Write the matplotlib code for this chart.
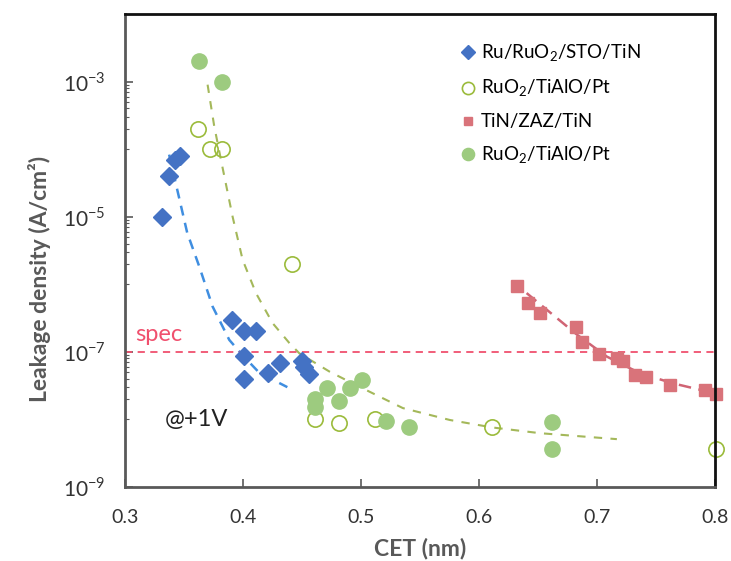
import matplotlib
matplotlib.use("Agg")
import matplotlib.pyplot as plt
from matplotlib.ticker import FixedLocator, NullFormatter

plt.rcParams['font.family'] = ['Lato', 'DejaVu Sans']
plt.rcParams['mathtext.fontset'] = 'custom'
plt.rcParams['mathtext.rm'] = 'Lato'

# Ru/RuO2/STO/TiN (blue diamonds)
sto_x = [0.331, 0.337, 0.342, 0.347, 0.391, 0.4005, 0.411, 0.401, 0.4005, 0.421, 0.431, 0.450, 0.4515, 0.456]
sto_y = [1.0e-5, 4.0e-5, 7.0e-5, 8.0e-5, 3.0e-7, 2.0e-7, 2.0e-7, 8.7e-8, 3.9e-8, 4.8e-8, 6.8e-8, 7.2e-8, 6.0e-8, 4.7e-8]
sto_fit_x = [0.3374, 0.3527, 0.3629, 0.3742, 0.3884, 0.3997, 0.4138, 0.4376]
sto_fit_y = [8.3e-5, 5.8e-6, 1.84e-6, 4.7e-7, 1.5e-7, 8.9e-8, 4.9e-8, 3.0e-8]

# RuO2/TiAlO/Pt open circles
open_x = [0.362, 0.372, 0.382, 0.4416, 0.461, 0.481, 0.5116, 0.611, 0.801]
open_y = [2.0e-4, 1.0e-4, 1.0e-4, 2.0e-6, 1.0e-8, 8.8e-9, 1.0e-8, 7.6e-9, 3.7e-9]

# RuO2/TiAlO/Pt filled circles
fill_x = [0.3623, 0.382, 0.461, 0.461, 0.471, 0.481, 0.491, 0.501, 0.5215, 0.541, 0.6617, 0.6617]
fill_y = [2.0e-3, 1.0e-3, 2.0e-8, 1.5e-8, 2.9e-8, 1.9e-8, 2.9e-8, 3.8e-8, 9.5e-9, 7.7e-9, 9.3e-9, 3.7e-9]
tialo_fit_x = [0.370, 0.3756, 0.3813, 0.3912, 0.3997, 0.411, 0.4251, 0.4393, 0.4478, 0.4733,
               0.4931, 0.5355, 0.5753, 0.6112, 0.6517, 0.7169]
tialo_fit_y = [9.0e-4, 2.2e-4, 7.0e-5, 1.0e-5, 2.3e-6, 7.4e-7, 2.66e-7, 1.35e-7, 9.5e-8, 5.1e-8,
               3.4e-8, 1.47e-8, 9.8e-9, 7.6e-9, 6.25e-9, 5.1e-9]

# TiN/ZAZ/TiN (red squares)
zaz_x = [0.6325, 0.6418, 0.6517, 0.682, 0.6871, 0.702, 0.7169, 0.7217, 0.7319, 0.7418, 0.7616, 0.7913, 0.8013]
zaz_y = [9.5e-7, 5.3e-7, 3.8e-7, 2.3e-7, 1.4e-7, 9.2e-8, 8.1e-8, 7.4e-8, 4.6e-8, 4.2e-8, 3.2e-8, 2.7e-8, 2.4e-8]
zaz_fit_x = [0.6404, 0.683, 0.7084, 0.7367, 0.765, 0.8013]
zaz_fit_y = [7.4e-7, 1.8e-7, 8.5e-8, 4.8e-8, 3.4e-8, 2.4e-8]

spec = 1e-7

fig = plt.figure(figsize=(7.31, 5.61), dpi=100)
ax = fig.add_axes([0.171, 0.132, 0.807, 0.843])

ax.plot(sto_fit_x, sto_fit_y, ls=(0, (4, 3)), color='#3f8ee0', lw=1.8)
ax.plot(tialo_fit_x, tialo_fit_y, ls=(0, (4, 4)), color='#a4b85a', lw=1.5)
ax.plot(zaz_fit_x, zaz_fit_y, ls=(0, (5, 3)), color='#d06474', lw=1.8)
ax.axhline(spec, ls=(0, (4, 3)), color='#f0506e', lw=1.3)

ax.plot(sto_x, sto_y, 'D', color='#4472c4', ms=9, ls='none', label='Ru/RuO$_2$/STO/TiN', clip_on=False)
ax.plot(open_x, open_y, 'o', mfc='none', mec='#9bbb3b', mew=1.2, ms=11, ls='none',
        label='RuO$_2$/TiAlO/Pt', clip_on=False)
ax.plot(zaz_x, zaz_y, 's', color='#d9737a', ms=8, ls='none', label='TiN/ZAZ/TiN', clip_on=False)
ax.plot(fill_x, fill_y, 'o', color='#9dcb7f', ms=11, ls='none', label='RuO$_2$/TiAlO/Pt', clip_on=False)

ax.set_yscale('log')
ax.set_xlim(0.3, 0.8)
ax.set_ylim(1e-9, 1e-2)
ax.set_xticks([0.3, 0.4, 0.5, 0.6, 0.7, 0.8])
ax.set_xticklabels(['0.3', '0.4', '0.5', '0.6', '0.7', '0.8'])
ax.yaxis.set_major_locator(FixedLocator([1e-9, 1e-7, 1e-5, 1e-3]))
ax.set_yticklabels(['10$^{-9}$', '10$^{-7}$', '10$^{-5}$', '10$^{-3}$'])
minor = [k * 10.0 ** e for e in (-8, -6, -4) for k in range(1, 10)]
ax.yaxis.set_minor_locator(FixedLocator(minor))
ax.yaxis.set_minor_formatter(NullFormatter())

ax.tick_params(axis='both', which='major', direction='in', length=6, width=1.2,
               labelsize=14, labelcolor='#333333', color='#595959')
ax.tick_params(axis='y', which='major', labelsize=15, pad=14)
ax.tick_params(axis='x', which='major', pad=16)
ax.tick_params(axis='y', which='minor', direction='in', length=3, width=0.8, color='#595959')
ax.tick_params(axis='x', which='minor', length=0)

for side in ('left', 'bottom'):
    ax.spines[side].set_color('#595959')
    ax.spines[side].set_linewidth(2)
for side in ('top', 'right'):
    ax.spines[side].set_color('#111111')
    ax.spines[side].set_linewidth(2)

ax.set_xlabel('CET (nm)', fontsize=16.5, fontweight='bold', color='#595959')
ax.set_ylabel('Leakage density (A/cm²)', fontsize=16.5, fontweight='bold', color='#595959')
ax.xaxis.set_label_coords(0.5, -0.108)
ax.yaxis.set_label_coords(-0.125, 0.44)

ax.text(0.309, 1.45e-7, 'spec', fontsize=17, color='#f0506e')
ax.text(0.334, 1.0e-8, '@+1V', fontsize=17, color='#222222', va='center')

ax.legend(loc='upper left', bbox_to_anchor=(0.54, 0.975), frameon=False, fontsize=13.5,
          handlelength=0.8, handletextpad=0.3, labelspacing=0.75, markerscale=0.8)

fig.savefig('out.png', dpi=100)
